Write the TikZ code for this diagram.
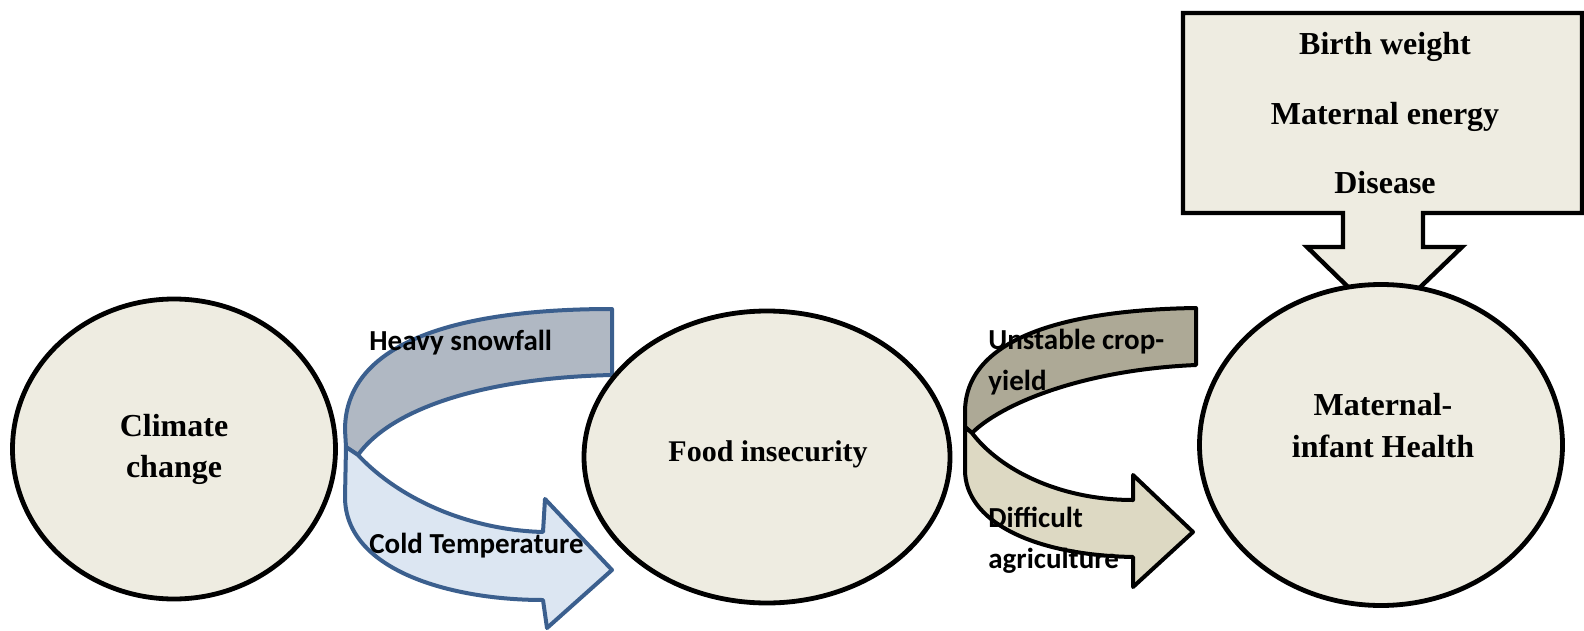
\documentclass[tikz,border=0pt]{standalone}
\usepackage{fontspec}
\setmainfont{Liberation Serif}
\newfontfamily\calib{Carlito}
\usetikzlibrary{shapes.geometric}
\definecolor{tanfill}{HTML}{EEECE1}
\definecolor{bluedark}{HTML}{B0B8C3}
\definecolor{bluelight}{HTML}{DCE6F2}
\definecolor{bluestroke}{HTML}{3B5F8E}
\definecolor{olivedark}{HTML}{ADA996}
\definecolor{olivelight}{HTML}{DDD9C3}
\tikzset{
  bubble/.style={ellipse, draw=black, line width=2.4pt, fill=tanfill, inner sep=0pt},
  ttl/.style={font=\fontsize{16}{18}\selectfont\bfseries, anchor=base},
  lbl/.style={font=\calib\fontsize{14.5}{16}\selectfont\bfseries, anchor=base west, inner sep=0pt},
  bluearrow/.style={draw=bluestroke, line width=2pt, line join=round},
  olivearrow/.style={draw=black, line width=2pt, line join=round},
  boxarrow/.style={draw=black, line width=2.2pt, fill=tanfill, line join=miter}
}
\begin{document}
\begin{tikzpicture}[x=0.5pt, y=-0.5pt]
\useasboundingbox (0,0) rectangle (1584,631);

% ---- blue curved arrow ----
\draw[bluearrow, fill=bluedark] (612,309) .. controls (450,309) and (345,345) .. (345,430)
  -- (346,447) -- (358,455) .. controls (390,410) and (480,378) .. (612,375) -- cycle;
\draw[bluearrow, fill=bluelight] (358,455) .. controls (400,500) and (470,530) .. (543,532)
  -- (545,499) -- (612,570) -- (547,628) -- (543,600)
  .. controls (450,600) and (345,570) .. (345,497) -- (346,447) -- cycle;

% ---- olive curved arrow ----
\draw[olivearrow, fill=olivedark] (1196,308) .. controls (1060,310) and (965,340) .. (965,412)
  -- (965,427) -- (972,433) .. controls (1000,405) and (1080,370) .. (1196,365) -- cycle;
\draw[olivearrow, fill=olivelight] (972,433) .. controls (1000,470) and (1060,500) .. (1133,500)
  -- (1133,475) -- (1193,532) -- (1133,587) -- (1133,557)
  .. controls (1030,555) and (965,520) .. (965,470) -- (965,427) -- cycle;

% ---- box with down arrow ----
\draw[boxarrow] (1183,13) -- (1582,13) -- (1582,213) -- (1423,213) -- (1423,247)
  -- (1462,247) -- (1384,322) -- (1307,247) -- (1343,247) -- (1343,213)
  -- (1183,213) -- cycle;

% ---- ellipses ----
\node[bubble, minimum width=161.5pt, minimum height=150pt] (climate) at (174,449) {};
\node[bubble, minimum width=183pt, minimum height=146pt] (food) at (767,457) {};
\node[bubble, minimum width=181.5pt, minimum height=160.5pt] (health) at (1381,445) {};

% ---- titles ----
\node[ttl] (t1) at (174,436) {Climate};
\node[ttl] (t2) at (174,477) {change};
\node[ttl, font=\fontsize{15}{18}\selectfont\bfseries] (t3) at (768,461) {Food insecurity};
\node[ttl] (t4) at (1383,415) {Maternal-};
\node[ttl] (t5) at (1383,457) {infant Health};
\node[ttl] (b1) at (1385,55) {Birth weight};
\node[ttl] (b2) at (1385,125) {Maternal energy};
\node[ttl] (b3) at (1385,193) {Disease};

% ---- arrow labels ----
\node[lbl] (l1) at (369,350) {Heavy snowfall};
\node[lbl] (l2) at (369,553) {Cold Temperature};
\node[lbl] (l3) at (988,349) {Unstable crop-};
\node[lbl] (l4) at (988,390) {yield};
\node[lbl] (l5) at (988,527) {Difficult};
\node[lbl] (l6) at (988,568) {agriculture};
\end{tikzpicture}
\end{document}
